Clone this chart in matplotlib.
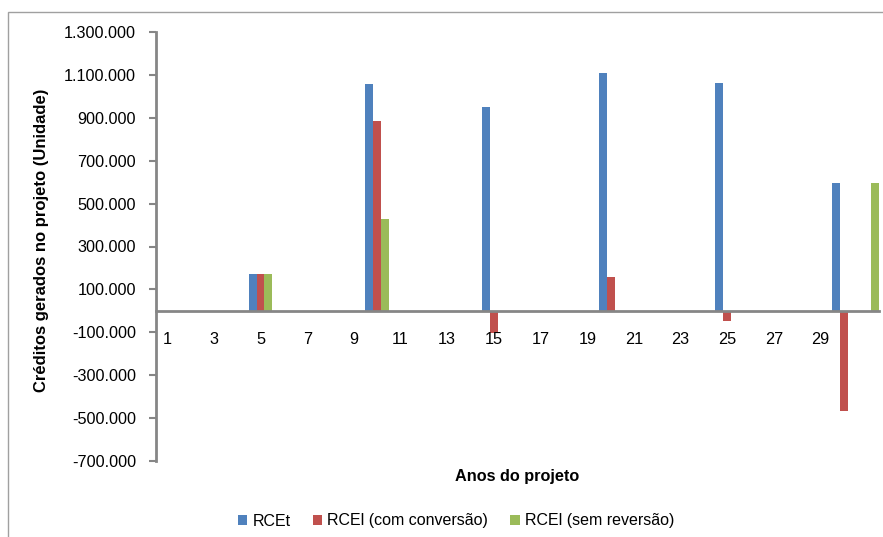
import matplotlib
matplotlib.use("Agg")
import matplotlib.pyplot as plt
import matplotlib.patches as patches
from matplotlib.ticker import FuncFormatter, FixedLocator

plt.rcParams['font.family'] = ['Liberation Sans', 'DejaVu Sans']

anos = list(range(1, 32))
rotulos = [str(a) if (a % 2 == 1 and a < 31) else "" for a in anos]

# valores (so os anos com creditos)
rcet = {5: 172000, 10: 1058000, 15: 951000, 20: 1109000, 25: 1063000, 30: 598000}
rcel_conv = {5: 172000, 10: 886000, 15: -101000, 20: 160000, 25: -47000, 30: -466000}
rcel_sem = {5: 172000, 10: 430000, 31: 598000}

series = [
    ("RCEt", rcet, "#4F81BD"),
    ("RCEl (com conversão)", rcel_conv, "#C0504D"),
    ("RCEl (sem reversão)", rcel_sem, "#9BBB59"),
]

fig = plt.figure(figsize=(8.83, 5.37), dpi=100)
ax = fig.add_axes([155.5 / 883, 1 - 461 / 537, (879 - 155.5) / 883, (461 - 32) / 537])

w = 0.34
for i, (nome, dados, cor) in enumerate(series):
    vals = [dados.get(a, 0) for a in anos]
    xs = [a + (i - 1) * w for a in anos]
    ax.bar(xs, vals, width=w, color=cor, label=nome, linewidth=0)

ax.set_xlim(0.5, 31.5)
ax.set_ylim(-700000, 1300000)
ax.yaxis.set_major_locator(FixedLocator(range(-700000, 1300001, 200000)))
ax.yaxis.set_major_formatter(FuncFormatter(lambda v, p: f"{v:,.0f}".replace(",", ".")))
ax.set_xticks(anos)
ax.set_xticklabels(rotulos)

cinza = "#868686"
for s in ["top", "right"]:
    ax.spines[s].set_visible(False)
ax.spines["bottom"].set_position(("data", 0))
ax.spines["bottom"].set_color(cinza)
ax.spines["bottom"].set_linewidth(2)
ax.spines["left"].set_color(cinza)
ax.spines["left"].set_linewidth(2)
ax.tick_params(axis="x", length=0, pad=15, labelsize=11.7)
ax.tick_params(axis="y", length=5, width=1.5, color=cinza, pad=9, labelsize=11.7, direction="out")

fig.text(42 / 883, 1 - 240 / 537, "Créditos gerados no projeto (Unidade)", rotation=90,
         ha="center", va="center", fontsize=12, fontweight="bold")
fig.text(517 / 883, 1 - 477 / 537, "Anos do projeto", ha="center", va="center",
         fontsize=11.7, fontweight="bold")

fig.legend(loc="center", bbox_to_anchor=(456 / 883, 1 - 521 / 537), ncol=3, frameon=False,
           fontsize=11.5, handlelength=0.6, handleheight=0.6, handletextpad=0.3,
           columnspacing=1.4)

fig.patches.append(patches.Rectangle((8 / 883, -0.1), 1.2, 1 - 12 / 537 + 0.1,
                                     transform=fig.transFigure, fill=False,
                                     edgecolor="#A0A0A0", linewidth=1))

fig.savefig("out.png", dpi=100)
